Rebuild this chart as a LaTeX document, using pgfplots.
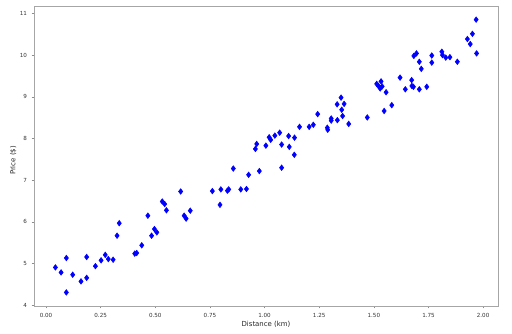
\documentclass[border=0pt]{standalone}
\usepackage{fontspec}
\setmainfont{DejaVu Sans}
\usepackage{pgfplots}
\pgfplotsset{compat=1.18}
\begin{document}
\begin{tikzpicture}
\begin{axis}[
  scale only axis, width=348pt, height=225pt,
  xmin=-0.055, xmax=2.068, ymin=3.985, ymax=11.177,
  xtick={0,0.25,0.5,0.75,1,1.25,1.5,1.75,2},
  ytick={4,5,6,7,8,9,10,11},
  xticklabel style={/pgf/number format/.cd, fixed, fixed zerofill, precision=2},
  /pgf/number format/assume math mode=true,
  tick label style={font=\fontsize{4.2}{5}\selectfont, text=black!80},
  label style={font=\fontsize{5.2}{6}\selectfont, text=black!85},
  xlabel={Distance (km)}, ylabel={Price (\$)},
  xlabel style={at={(axis description cs:0.5,0)}, anchor=center, yshift=-13.5pt},
  ylabel style={at={(axis description cs:-0.0446,0.485)}, anchor=center},
  axis line style={black!35, line width=0.6pt},
  tick style={black!45, line width=0.4pt},
  tick align=outside, major tick length=1.8pt, tick pos=left,
]
\addplot[only marks, mark=diamond*, mark size=2.1pt, color=blue, mark options={fill=blue, draw=blue}] coordinates {
(0.043,4.91) (0.069,4.79) (0.093,5.135) (0.093,4.31) (0.122,4.735)
(0.160,4.575) (0.186,4.66) (0.186,5.16) (0.226,4.94) (0.252,5.08)
(0.271,5.21) (0.285,5.11) (0.307,5.094) (0.325,5.67) (0.335,5.97)
(0.406,5.24) (0.415,5.255) (0.438,5.44) (0.466,6.15) (0.483,5.67)
(0.496,5.83) (0.507,5.75) (0.532,6.49) (0.543,6.43) (0.551,6.28)
(0.616,6.73) (0.632,6.15) (0.641,6.08) (0.660,6.27) (0.761,6.74)
(0.796,6.41) (0.800,6.78) (0.830,6.75) (0.836,6.78) (0.857,7.28)
(0.891,6.78) (0.917,6.79) (0.927,7.13) (0.976,7.22) (0.958,7.75)
(0.964,7.87) (1.006,7.83) (1.021,8.03) (1.028,7.97) (1.047,8.07)
(1.069,8.14) (1.078,7.30) (1.078,7.855) (1.110,8.06) (1.113,7.80)
(1.136,7.61) (1.137,8.02) (1.160,8.28) (1.204,8.28) (1.223,8.33)
(1.243,8.585) (1.287,8.26) (1.289,8.21) (1.305,8.48) (1.305,8.43)
(1.333,8.44) (1.332,8.82) (1.350,8.98) (1.364,8.83) (1.353,8.69)
(1.357,8.54) (1.385,8.35) (1.470,8.505) (1.513,9.31) (1.521,9.26)
(1.529,9.20) (1.533,9.37) (1.538,9.25) (1.556,9.11) (1.547,8.66)
(1.582,8.80) (1.620,9.46) (1.644,9.18) (1.673,9.40) (1.674,9.26)
(1.681,9.24) (1.708,9.18) (1.742,9.24) (1.683,9.98) (1.695,10.04)
(1.708,9.84) (1.717,9.67) (1.765,9.99) (1.765,9.82) (1.811,10.08)
(1.814,10.00) (1.829,9.94) (1.848,9.95) (1.882,9.84) (1.928,10.385)
(1.941,10.265) (1.951,10.51) (1.968,10.85) (1.970,10.04)
};
\end{axis}
\path (current axis.south west) ++(-25.5pt,-20.25pt) coordinate (bbsw);
\path (current axis.north east) ++(10.5pt,4.5pt) coordinate (bbne);
\useasboundingbox (bbsw) rectangle (bbne);
\end{tikzpicture}
\end{document}
